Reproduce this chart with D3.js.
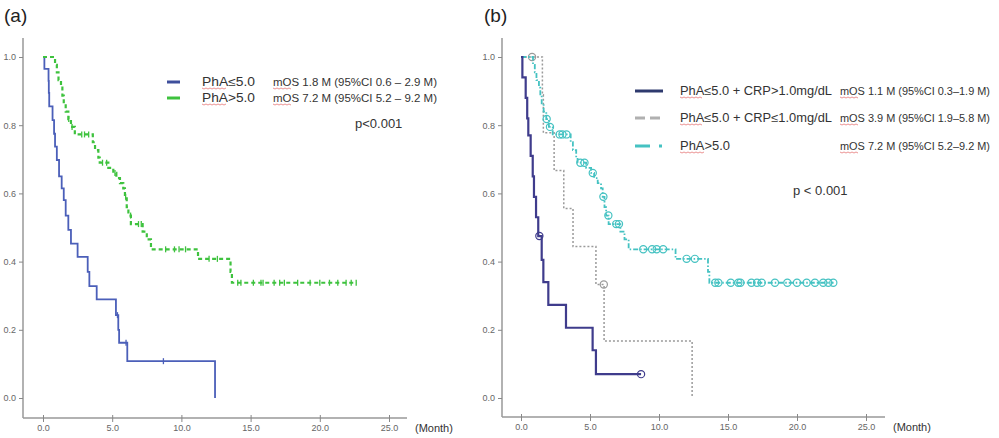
<!DOCTYPE html>
<html>
<head>
<meta charset="utf-8">
<script src="https://cdn.jsdelivr.net/npm/d3@7"></script>
<style>
  body { margin: 0; background: #fff; }
  text { font-family: "Liberation Sans", Arial, sans-serif; }
</style>
</head>
<body>
<svg></svg>
<script>
var viewWidth = 999;
var viewHeight = 438;

// ticks
var xTicks = [0, 5, 10, 15, 20, 25];
var yTicks = [0, 0.2, 0.4, 0.6, 0.8, 1.0];

// PhA<=5.0 (all) : [month, survival]
var lowPhA = [[0,1],[0.1,0.965],[0.4,0.93],[0.42,0.895],[0.45,0.855],[0.69,0.815],[0.8,0.775],[0.87,0.737],
  [1.0,0.698],[1.16,0.65],[1.35,0.615],[1.5,0.58],[1.64,0.535],[1.83,0.493],[2.02,0.453],[2.5,0.414],
  [3.23,0.37],[3.35,0.328],[3.88,0.289],[5.27,0.243],[5.44,0.2],[5.5,0.162],[6.09,0.108],[12.43,0]];
var lowPhAEnd = 12.43;
var lowPhACens = [5.38, 6.0, 8.7];

// PhA>5.0 : same group in both panels
var highPhA = [[0,1],[0.87,0.977],[1.0,0.955],[1.12,0.932],[1.3,0.91],[1.4,0.887],[1.5,0.864],[1.64,0.84],
  [1.83,0.818],[2.02,0.795],[2.3,0.773],[3.6,0.75],[3.76,0.727],[4.0,0.705],[4.1,0.69],[4.72,0.675],
  [5.08,0.66],[5.3,0.645],[5.56,0.63],[5.8,0.615],[5.92,0.59],[6.05,0.56],[6.17,0.535],[6.35,0.51],
  [7.2,0.488],[7.5,0.465],[7.8,0.436],[11.2,0.408],[13.55,0.37],[13.65,0.338]];
var highPhAEnd = 22.65;
var highPhACens = [1.86, 2.1, 2.8, 3.0, 3.3, 4.3, 4.6, 5.2, 5.97, 6.33, 6.9, 7.1, 8.86, 9.5, 9.83, 10.3,
  12.0, 12.6, 14.07, 14.3, 15.2, 15.75, 15.9, 16.7, 17.1, 17.44, 18.4, 19.3, 20.0, 20.7, 21.3, 21.9, 22.27, 22.63];

// PhA<=5.0 + CRP>1.0
var highCrp = [[0,1],[0.1,0.94],[0.34,0.88],[0.45,0.82],[0.53,0.77],[0.7,0.71],[0.85,0.65],[0.94,0.59],
  [1.09,0.53],[1.25,0.475],[1.5,0.405],[1.62,0.34],[1.98,0.273],[3.26,0.206],[5.19,0.14],[5.43,0.07]];
var highCrpEnd = 8.7;
var highCrpCens = [1.33, 8.7];

// PhA<=5.0 + CRP<=1.0
var lowCrp = [[0,1],[1.55,0.889],[1.62,0.778],[2.4,0.667],[3.1,0.556],[3.77,0.444],[5.43,0.333],
  [6.02,0.167],[12.4,0]];
var lowCrpEnd = 12.4;
var lowCrpCens = [0.8, 6.0];

var svg = d3.select("svg")
    .attr("width", viewWidth)
    .attr("height", viewHeight);

function survAt(data, t) {
    var s = 1;
    data.forEach(function(d) { if (d[0] <= t) s = d[1]; });
    return s;
}

function drawPanel(p) {
    var x = d3.scaleLinear().domain([0, 25]).range([p.x0, p.x25]);
    var y = d3.scaleLinear().domain([0, 1]).range([398, 57]);
    var g = svg.append("g");

    // axis lines
    g.append("line").attr("x1", p.ax).attr("x2", p.ax).attr("y1", 38).attr("y2", p.ay)
        .attr("stroke", "#999").attr("stroke-width", 1.5);
    g.append("line").attr("x1", p.ax).attr("x2", p.xEnd).attr("y1", p.ay).attr("y2", p.ay)
        .attr("stroke", "#999").attr("stroke-width", 1.5);

    var yAxis = g.append("g")
        .attr("transform", "translate(" + p.ax + ",0)")
        .call(d3.axisLeft(y).tickValues(yTicks).tickSize(4).tickFormat(d3.format(".1f")));
    var xAxis = g.append("g")
        .attr("transform", "translate(0," + p.ay + ")")
        .call(d3.axisBottom(x).tickValues(xTicks).tickSize(4).tickPadding(3).tickFormat(d3.format(".1f")));
    [yAxis, xAxis].forEach(function(a) {
        a.select(".domain").remove();
        a.selectAll("line").attr("stroke", "#888");
        a.selectAll("text").attr("fill", "#666").style("font-size", "9px")
            .style("font-family", "'Liberation Sans', Arial, sans-serif");
    });
    xAxis.selectAll(".tick line").attr("y1", -3);

    g.append("text")
        .attr("x", p.xEnd + 8).attr("y", p.ay + 14)
        .style("font-size", "11px").attr("fill", "#333")
        .text("(Month)");

    g.append("text")
        .attr("x", p.titleX).attr("y", 22)
        .style("font-size", "19px").attr("fill", "#222")
        .text(p.title);

    var line = d3.line()
        .x(function(d) { return x(d[0]); })
        .y(function(d) { return y(d[1]); })
        .curve(d3.curveStepAfter);

    p.series.forEach(function(s) {
        var pts = s.data.slice();
        pts.push([s.end, pts[pts.length - 1][1]]);
        g.append("path")
            .datum(pts)
            .attr("fill", "none")
            .attr("stroke", s.color)
            .attr("stroke-width", s.width)
            .attr("stroke-dasharray", s.dash)
            .attr("d", line);

        if (s.marker == "tick") {
            g.selectAll(null).data(s.cens).enter().append("line")
                .attr("x1", function(t) { return x(t); })
                .attr("x2", function(t) { return x(t); })
                .attr("y1", function(t) { return y(survAt(s.data, t)) - 3; })
                .attr("y2", function(t) { return y(survAt(s.data, t)) + 3; })
                .attr("stroke", s.color).attr("stroke-width", 1.3);
        } else {
            g.selectAll(null).data(s.cens).enter().append("circle")
                .attr("cx", function(t) { return x(t); })
                .attr("cy", function(t) { return y(survAt(s.data, t)); })
                .attr("r", 3.6)
                .attr("fill", "none")
                .attr("stroke", s.color).attr("stroke-width", 1.2);
        }
    });

    // legend
    p.legend.forEach(function(l, i) {
        var ly = p.legY[i];
        g.append("line")
            .attr("x1", p.legX).attr("x2", p.legX + p.legW)
            .attr("y1", ly).attr("y2", ly)
            .attr("stroke", l.color).attr("stroke-width", 3)
            .attr("stroke-dasharray", l.dash);
        g.append("text")
            .attr("x", p.legX + p.legW + p.gap1).attr("y", ly + 4)
            .style("font-size", "12px").attr("fill", "#333")
            .attr("textLength", l.w1).attr("lengthAdjust", "spacingAndGlyphs")
            .text(l.label);
        g.append("text")
            .attr("x", p.mosX).attr("y", ly + 4)
            .style("font-size", p.mosSize).attr("fill", "#333")
            .attr("textLength", p.mosW).attr("lengthAdjust", "spacingAndGlyphs")
            .text(l.mos);
        // spell-check squiggles under "PhA" and "mOS"
        [[p.legX + p.legW + p.gap1, l.w1 * 3 / l.label.length], [p.mosX, p.mosW * 3 / l.mos.length]]
            .forEach(function(u) {
                var x0 = u[0], w = u[1] + 3, dpath = "M" + x0 + "," + (ly + 6);
                for (var k = 2; k <= w; k += 2) dpath += "L" + (x0 + k) + "," + (ly + 6 + (k % 4 ? 1 : 0));
                g.append("path").attr("d", dpath).attr("fill", "none")
                    .attr("stroke", "#e05555").attr("stroke-width", 0.8).attr("opacity", 0.8);
            });
    });

    g.append("text")
        .attr("x", p.pX).attr("y", p.pY)
        .style("font-size", p.pSize).attr("fill", "#333")
        .text(p.pText);
}

drawPanel({
    title: "(a)", titleX: 4,
    x0: 43, x25: 389, ax: 23, ay: 418, xEnd: 407,
    series: [
        {data: lowPhA, end: lowPhAEnd, cens: lowPhACens, color: "#4b5fb9", width: 1.8, dash: null, marker: "tick"},
        {data: highPhA, end: highPhAEnd, cens: highPhACens, color: "#3ec23e", width: 2.2, dash: "4,3", marker: "tick"}
    ],
    legX: 167, legW: 13, gap1: 22, legY: [82, 98],
    mosX: 273, mosW: 164, mosSize: "11px",
    legend: [
        {color: "#3e4f9c", dash: null, label: "PhA\u22645.0", w1: 53, mos: "mOS 1.8 M (95%CI 0.6 \u2013 2.9 M)"},
        {color: "#3ec23e", dash: null, label: "PhA>5.0", w1: 53, mos: "mOS 7.2 M (95%CI 5.2 \u2013 9.2 M)"}
    ],
    pX: 355, pY: 128, pSize: "13px", pText: "p<0.001"
});

drawPanel({
    title: "(b)", titleX: 484,
    x0: 521, x25: 866, ax: 502, ay: 417, xEnd: 885,
    series: [
        {data: lowCrp, end: lowCrpEnd, cens: lowCrpCens, color: "#9a9a9a", width: 1.5, dash: "2,2", marker: "circle"},
        {data: highPhA, end: highPhAEnd, cens: highPhACens, color: "#45c2c2", width: 1.8, dash: "5,2,1.5,2", marker: "circle"},
        {data: highCrp, end: highCrpEnd, cens: highCrpCens, color: "#3f3c8c", width: 2.2, dash: null, marker: "circle"}
    ],
    legX: 635, legW: 28, gap1: 17, legY: [91, 118, 146],
    mosX: 840, mosW: 150, mosSize: "10px",
    legend: [
        {color: "#2e3a6e", dash: null, label: "PhA\u22645.0 + CRP>1.0mg/dL", w1: 152, mos: "mOS 1.1 M (95%CI 0.3\u20131.9 M)"},
        {color: "#b0b0b0", dash: "10,5", label: "PhA\u22645.0 + CRP\u22641.0mg/dL", w1: 152, mos: "mOS 3.9 M (95%CI 1.9\u20135.8 M)"},
        {color: "#45c2c2", dash: "15,9,3,9", label: "PhA>5.0", w1: 50, mos: "mOS 7.2 M (95%CI 5.2\u20139.2 M)"}
    ],
    pX: 793, pY: 195, pSize: "13px", pText: "p < 0.001"
});
</script>
</body>
</html>
